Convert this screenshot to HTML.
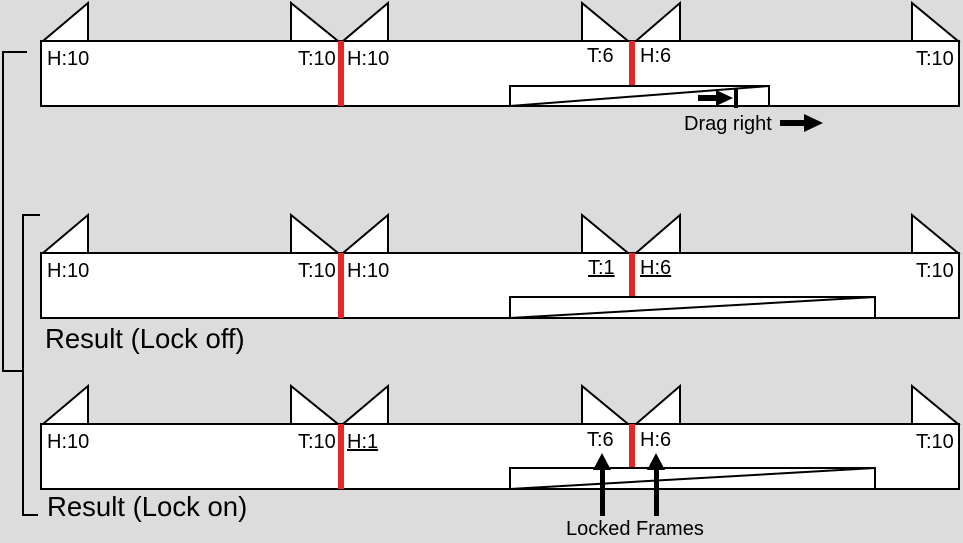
<!DOCTYPE html>
<html><head><meta charset="utf-8"><style>
html,body{margin:0;padding:0;background:#dcdcdc;}
svg{display:block;}
text{font-family:"Liberation Sans",Arial,sans-serif;fill:#000;}
</style></head><body>
<svg width="963" height="543" viewBox="0 0 963 543" xmlns="http://www.w3.org/2000/svg">
<rect width="963" height="543" fill="#dcdcdc"/>
<g fill="none" stroke="#000" stroke-width="2">
<polyline points="27,52 3,52 3,371 23,371"/>
<polyline points="40,215 23,215 23,515 38,515"/>
</g>
<defs>
<g id="row">
<rect x="41" y="41" width="918" height="65" fill="#fff" stroke="#000" stroke-width="2"/>
<polygon points="43,41 88,3 88,41" fill="#fff" stroke="#000" stroke-width="2"/>
<polygon points="291,41 291,3 338,41" fill="#fff" stroke="#000" stroke-width="2"/>
<polygon points="343,41 388,3 388,41" fill="#fff" stroke="#000" stroke-width="2"/>
<polygon points="582,41 582,3 628,41" fill="#fff" stroke="#000" stroke-width="2"/>
<polygon points="636,41 680,3 680,41" fill="#fff" stroke="#000" stroke-width="2"/>
<polygon points="912,41 912,3 958,41" fill="#fff" stroke="#000" stroke-width="2"/>
<rect x="338" y="41" width="6" height="65" fill="#e8262a"/>
<rect x="629" y="41" width="6" height="45" fill="#e8262a"/>
</g>
</defs>
<use href="#row"/>
<use href="#row" y="212"/>
<use href="#row" y="383"/>
<g font-size="20">
<text x="47" y="65">H:10</text>
<text x="298" y="65">T:10</text>
<text x="347" y="65">H:10</text>
<text x="587" y="62">T:6</text>
<text x="640" y="62">H:6</text>
<text x="916" y="65">T:10</text>
<text x="47" y="277">H:10</text>
<text x="298" y="277">T:10</text>
<text x="347" y="277">H:10</text>
<text x="588" y="274" text-decoration="underline">T:1</text>
<text x="640" y="274" text-decoration="underline">H:6</text>
<text x="916" y="277">T:10</text>
<text x="47" y="448">H:10</text>
<text x="298" y="448">T:10</text>
<text x="347" y="448" text-decoration="underline">H:1</text>
<text x="587" y="446">T:6</text>
<text x="640" y="446">H:6</text>
<text x="916" y="448">T:10</text>
<text x="684" y="130">Drag right</text>
<text x="566" y="535">Locked Frames</text>
</g>
<g font-size="27.5">
<text x="45" y="348">Result (Lock off)</text>
<text x="47" y="516">Result (Lock on)</text>
</g>
<g fill="#fff" stroke="#000" stroke-width="2">
<rect x="510" y="86" width="259" height="20"/>
<line x1="510" y1="106" x2="769" y2="86"/>
<rect x="510" y="297" width="365" height="21"/>
<line x1="510" y1="318" x2="875" y2="297"/>
<rect x="510" y="468" width="365" height="21"/>
<line x1="510" y1="489" x2="875" y2="468"/>
</g>
<g fill="#000">
<rect x="734" y="88" width="4" height="20"/>
<rect x="698" y="95" width="20" height="6"/>
<polygon points="716,90 733,98 716,106"/>
<rect x="780" y="120" width="26" height="6"/>
<polygon points="804,114 823,123 804,132"/>
<rect x="600" y="468" width="5" height="48"/>
<polygon points="593,470 602,453 611,470"/>
<rect x="654" y="468" width="5" height="48"/>
<polygon points="647,470 656,453 665,470"/>
</g>
</svg>
</body></html>
